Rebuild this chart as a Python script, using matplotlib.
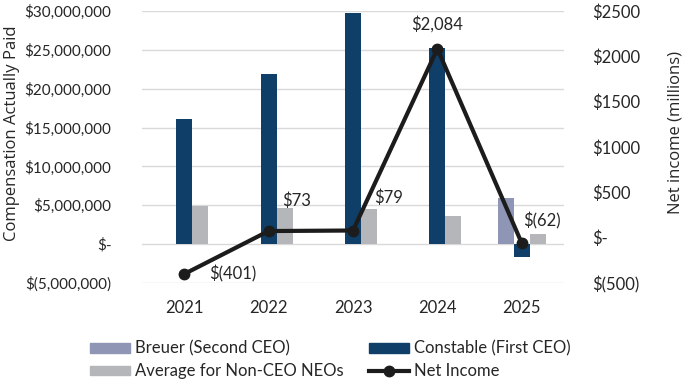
import matplotlib
matplotlib.use('Agg')
import matplotlib.pyplot as plt
import numpy as np
from matplotlib.lines import Line2D
from matplotlib.patches import Patch

years = ['2021', '2022', '2023', '2024', '2025']
breuer = [0, 0, 0, 0, 5900000]
constable = [16100000, 21850000, 29700000, 25200000, -1700000]
avg_neo = [4900000, 4600000, 4500000, 3600000, 1300000]
net_income = [-401, 73, 79, 2084, -62]
ni_labels = ['$(401)', '$73', '$79', '$2,084', '$(62)']

left_ticks = [-5e6, 0, 5e6, 10e6, 15e6, 20e6, 25e6, 30e6]
left_ticklabels = ['$(5,000,000)', '$-', '$5,000,000', '$10,000,000', '$15,000,000',
                   '$20,000,000', '$25,000,000', '$30,000,000']
right_ticks = [-500, 0, 500, 1000, 1500, 2000, 2500]
right_ticklabels = ['$(500)', '$-', '$500', '$1000', '$1500', '$2000', '$2500']

c_breuer = '#8e95b5'
c_const = '#0f3e69'
c_avg = '#b5b6b9'
c_line = '#1c1c1c'
txt = '#262626'
tick_font = 'Lato'
title_font = 'Open Sans'

fig = plt.figure(figsize=(6.84, 3.87), dpi=100)
ax = fig.add_axes([142/684, 1-283/387, (564-142)/684, (283-11)/387])

x = np.arange(len(years))
w = 0.19
ax.bar(x - w, breuer, w, color=c_breuer, zorder=2)
ax.bar(x, constable, w, color=c_const, zorder=2)
ax.bar(x + w, avg_neo, w, color=c_avg, zorder=2)

ax.set_xlim(-0.5, 4.5)
ax.set_ylim(-5e6, 30e6)
ax.set_yticks(left_ticks)
ax.set_yticklabels(left_ticklabels, fontfamily=tick_font, fontsize=11, color=txt)
ax.set_xticks(x)
ax.set_xticklabels(years, fontfamily=tick_font, fontsize=12, color=txt)
ax.tick_params(length=0, pad=22)
ax.tick_params(axis='x', pad=12)
ax.grid(axis='y', color='#d9d9d9', linewidth=1, zorder=0)
ax.set_axisbelow(True)
for s in ax.spines.values():
    s.set_visible(False)

ax2 = ax.twinx()
ax2.plot(x, net_income, color=c_line, linewidth=3, marker='o', markersize=7.5, zorder=5)
ax2.set_ylim(-500, 2500)
ax2.set_yticks(right_ticks)
ax2.set_yticklabels(right_ticklabels, fontfamily=tick_font, fontsize=12, color=txt)
ax2.tick_params(length=0, pad=20)
for s in ax2.spines.values():
    s.set_visible(False)

# axis titles placed on the figure so the wide tick labels don't push them off
fig.text(12/684, 1-133/387, 'Compensation Actually Paid', rotation=90, ha='center',
         va='center', fontfamily=title_font, fontsize=12, color=txt)
fig.text(676/684, 1-133/387, 'Net income (millions)', rotation=90, ha='center',
         va='center', fontfamily=title_font, fontsize=12, color=txt)

offsets = [(25, 0, 'left', 'center'), (14, 30, 'left', 'center'),
           (21, 33, 'left', 'center'), (0, 16, 'center', 'bottom'),
           (1, 22, 'left', 'center')]
for xi, yi, lab, (dx, dy, ha, va) in zip(x, net_income, ni_labels, offsets):
    ax2.annotate(lab, (xi, yi), xytext=(dx, dy), textcoords='offset pixels',
                 ha=ha, va=va, fontfamily=tick_font, fontsize=12, color=txt)

# legend fills by column, so order is Breuer, Average, Constable, Net Income
handles = [Patch(color=c_breuer, label='Breuer (Second CEO)'),
           Patch(color=c_avg, label='Average for Non-CEO NEOs'),
           Patch(color=c_const, label='Constable (First CEO)'),
           Line2D([], [], color=c_line, linewidth=3, marker='o', markersize=7.5,
                  label='Net Income')]
fig.legend(handles=handles, ncol=2, loc='center', bbox_to_anchor=(330/684, 1-360/387),
           frameon=False, prop={'family': tick_font, 'size': 12}, labelcolor=txt,
           handlelength=2.4, handleheight=0.5, handletextpad=0.3, columnspacing=1.5,
           labelspacing=0.4, borderpad=0)

fig.savefig('out.png', dpi=100)
